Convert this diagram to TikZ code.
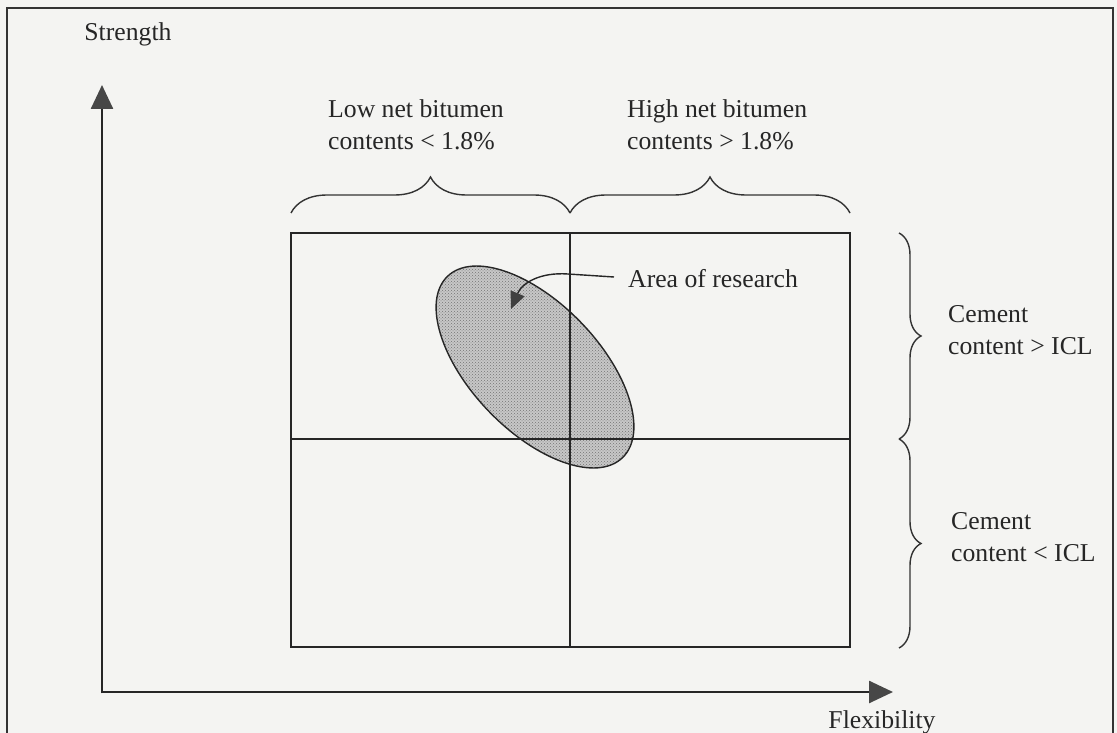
\documentclass[tikz,border=0pt]{standalone}
\usepackage{fontspec}
\setmainfont{Liberation Serif}
\usetikzlibrary{arrows.meta,decorations.pathreplacing,patterns}
\definecolor{paper}{HTML}{F4F4F2}
\tikzset{
  lbl/.style={inner sep=0pt, align=left, text=black!85, font=\fontsize{25.7}{31.5}\selectfont},
  grid/.style={line width=1.6pt, draw=black!85},
  axis/.style={line width=2.6pt, draw=black!85, -{Triangle[length=24pt,width=22pt,fill=black!72,color=black!72]}},
  bracestyle/.style={line width=1.4pt, draw=black!80, decorate},
}
\begin{document}
\begin{tikzpicture}[x=1pt,y=-1pt]
\useasboundingbox (0,0) rectangle (1117,733);
\fill[paper] (0,0) rectangle (1117,733);
\draw[line width=1.5pt, black!80] (7,745) -- (7,8) -- (1113,8) -- (1113,745);
% labels
\node[lbl, anchor=center] (strength) at (128,34) {Strength};
\node[lbl, anchor=center] (flex) at (882,722) {Flexibility};
\node[lbl, anchor=west] (low) at (328,125) {Low net bitumen\\contents < 1.8\%};
\node[lbl, anchor=west] (high) at (627,125) {High net bitumen\\contents > 1.8\%};
\node[lbl, anchor=west] (cemhi) at (948,330) {Cement\\content > ICL};
\node[lbl, anchor=west] (cemlo) at (951,537) {Cement\\content < ICL};
\node[lbl, anchor=west] (area) at (628,279) {Area of research};
% ellipse
\coordinate (ec) at (535,367);
\fill[black!22, rotate around={-46:(ec)}] (ec) ellipse (126pt and 64pt);
\fill[pattern=crosshatch dots, pattern color=black!55, rotate around={-46:(ec)}] (ec) ellipse (126pt and 64pt);
% grid
\coordinate (tl) at (291,233);
\coordinate (br) at (850,647);
\draw[grid] (tl) rectangle (br);
\draw[grid] (570,233) -- (570,647);
\draw[grid] (291,439) -- (850,439);
\draw[line width=1.4pt, black!85, rotate around={-46:(ec)}] (ec) ellipse (126pt and 64pt);
% arrow to area
\coordinate (atip) at (511,309);
\draw[line width=1.4pt, black!85, -{Triangle[length=17pt,width=15pt,fill=black!75,color=black!75]}]
  (area.west) ++(-14,-2) coordinate (astart) -- (568,274) .. controls (540,272) and (522,283) .. (atip);
% axes
\coordinate (origin) at (102,692);
\coordinate (ytip) at (102,85);
\coordinate (xtip) at (893,692);
\draw[axis] (origin) -- (ytip);
\draw[axis] (origin) -- (xtip);
\draw[line width=2.6pt, black!85] (102,693.3) -- (102,690);
% braces
\draw[bracestyle, decoration={brace, amplitude=36pt}] (291,213) -- (570,213);
\draw[bracestyle, decoration={brace, amplitude=36pt}] (570,213) -- (850,213);
\draw[bracestyle, decoration={brace, amplitude=22pt}] (899,233) -- (899,439);
\draw[bracestyle, decoration={brace, amplitude=22pt}] (899,439) -- (899,648);
\end{tikzpicture}
\end{document}
